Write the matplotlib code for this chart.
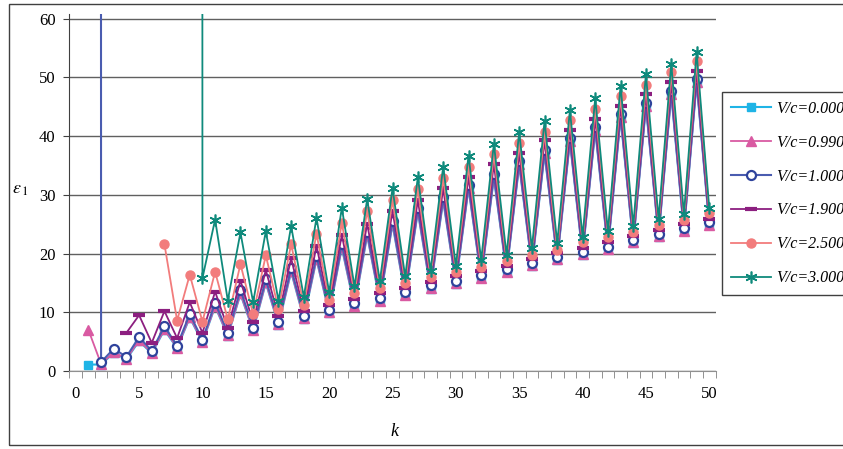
import numpy as np
import matplotlib
matplotlib.use('Agg')
import matplotlib.pyplot as plt
from matplotlib.patches import Rectangle

plt.rcParams['font.family'] = ['Liberation Serif', 'DejaVu Serif']
plt.rcParams['mathtext.fontset'] = 'stix'

nan = np.nan
BIG = 1e4  # off-scale value, shows as a vertical line

k = list(range(1, 51))

vc_000 = [1.1, 1.1, 3.1, 2.0, 5.1, 3.0, 7.0, 3.9, 9.1, 4.9, 11.0, 6.0, 13.1, 6.9, 15.0, 7.9,
          16.9, 8.9, 19.0, 9.9, 21.0, 11.0, 23.1, 11.9, 25.0, 12.9, 27.1, 14.0, 29.0, 14.9,
          31.1, 15.8, 32.9, 16.8, 35.1, 17.9, 37.0, 18.9, 39.1, 19.8, 41.0, 20.7, 43.1, 21.8,
          45.0, 22.9, 47.1, 23.8, 49.1, 24.8]
vc_099 = [7.0, 1.2, 3.2, 2.1, 5.2, 3.1, 7.1, 4.0, 9.2, 5.0, 11.1, 6.1, 13.2, 7.0, 15.1, 8.0,
          17.0, 9.0, 19.1, 10.0, 21.1, 11.1, 23.2, 12.0, 25.1, 13.0, 27.2, 14.1, 29.1, 15.0,
          31.2, 15.9, 33.0, 16.9, 35.2, 18.0, 37.1, 19.0, 39.2, 19.9, 41.1, 20.8, 43.2, 21.9,
          45.1, 23.0, 47.2, 23.9, 49.2, 24.9]
vc_100 = [BIG, 1.5, 3.8, 2.4, 5.8, 3.4, 7.6, 4.3, 9.7, 5.3, 11.6, 6.5, 13.8, 7.4, 15.6, 8.4,
          17.5, 9.4, 19.6, 10.4, 21.6, 11.6, 23.7, 12.4, 25.6, 13.4, 27.7, 14.6, 29.6, 15.4,
          31.7, 16.3, 33.5, 17.3, 35.7, 18.4, 37.6, 19.4, 39.7, 20.3, 41.6, 21.2, 43.7, 22.3,
          45.6, 23.4, 47.7, 24.3, 49.7, 25.3]
vc_190 = [nan, nan, nan, 6.5, 9.5, 4.8, 10.2, 5.6, 11.7, 6.5, 13.5, 7.3, 15.4, 8.3, 17.2, 9.3,
          19.2, 10.2, 21.3, 11.2, 23.2, 12.3, 25.1, 13.2, 27.3, 14.2, 29.1, 15.2, 31.1, 16.2,
          33.0, 17.0, 35.3, 17.9, 37.1, 19.1, 39.3, 20.1, 41.1, 21.0, 43.0, 22.0, 45.1, 23.0,
          47.1, 24.0, 49.2, 25.0, 51.1, 25.9]
vc_250 = [nan, nan, nan, nan, nan, nan, 21.6, 8.6, 16.4, 8.4, 16.9, 8.8, 18.2, 9.7, 19.7, 10.6,
          21.6, 11.2, 23.4, 12.1, 25.2, 13.2, 27.3, 14.1, 29.1, 15.0, 31.0, 16.0, 32.8, 16.9,
          34.7, 17.7, 36.9, 18.7, 38.8, 19.8, 40.7, 20.6, 42.8, 21.9, 44.7, 22.9, 46.8, 23.7,
          48.7, 24.8, 50.9, 25.7, 52.8, 26.9]
vc_300 = [nan, nan, nan, nan, nan, nan, nan, nan, BIG, 15.8, 25.8, 12.0, 23.6, 11.7, 23.8, 12.0,
          24.7, 12.6, 26.1, 13.4, 27.8, 14.4, 29.3, 15.3, 31.1, 16.1, 33.0, 17.1, 34.8, 17.9,
          36.7, 18.9, 38.7, 19.8, 40.7, 20.9, 42.6, 21.8, 44.4, 22.9, 46.5, 23.8, 48.6, 24.7,
          50.5, 25.9, 52.3, 26.7, 54.3, 27.7]

labels = ['V/c=0.000', 'V/c=0.990', 'V/c=1.000', 'V/c=1.900', 'V/c=2.500', 'V/c=3.000']

fig = plt.figure(figsize=(8.43, 4.49), dpi=100)
fig.patches.append(Rectangle((9 / 843, 1 - 445 / 449), 1.0, 441 / 449,
                             transform=fig.transFigure, fill=False,
                             edgecolor='#404040', lw=1.0))

ax = fig.add_axes([69.4 / 843, 1 - 371 / 449, 646.2 / 843, 357 / 449])

ax.plot(k, vc_000, color='#1fb4e6', lw=1.5, marker='s', ms=5.5, mec='#1fb4e6', label=labels[0])
ax.plot(k, vc_099, color='#d95aa2', lw=1.3, marker='^', ms=6.5, mec='#d95aa2', label=labels[1])
ax.plot(k, vc_100, color='#4a5cb0', lw=1.5, marker='o', ms=6.5, mfc='white', mec='#2f439c',
        mew=1.6, label=labels[2])
ax.plot(k, vc_190, color='#8c1f80', lw=1.3, marker='_', ms=8, mew=3, label=labels[3])
ax.plot(k, vc_250, color='#f27c7c', lw=1.3, marker='o', ms=6.5, mec='#f27c7c', label=labels[4])
ax.plot(k, vc_300, color='#0f8a7c', lw=1.3, marker=(6, 2, 0), ms=8.5, mew=1.2, label=labels[5])

ax.set_xlim(-0.5, 50.5)
ax.set_ylim(0, 60.8)
ax.set_yticks(range(0, 61, 10))
ax.set_xticks(range(0, 51, 5))
ax.set_xticks(np.arange(-0.5, 51, 1), minor=True)
ax.tick_params(axis='x', which='major', length=0, pad=11, labelsize=12)
ax.tick_params(axis='x', which='minor', length=5, color='#808080', direction='out')
ax.tick_params(axis='y', length=4, color='#404040', pad=6, labelsize=12)
ax.grid(axis='y', color='#606060', lw=1.0)
ax.set_axisbelow(True)
for s in ['top', 'right']:
    ax.spines[s].set_visible(False)
ax.spines['left'].set_color('#404040')
ax.spines['bottom'].set_color('#909090')

fig.text(20 / 843, 1 - 190 / 449, r'$\varepsilon_{\,1}$', fontsize=13, ha='center', va='center')
fig.text(394 / 843, 1 - 431 / 449, 'k', fontsize=13, style='italic', ha='center', va='center')

leg = fig.legend(loc='upper left', bbox_to_anchor=(722 / 843, 1 - 92 / 449),
                 bbox_transform=fig.transFigure, borderaxespad=0,
                 prop={'family': 'Liberation Serif', 'style': 'italic', 'size': 11.5},
                 handlelength=2.5, handletextpad=0.35, labelspacing=1.12, borderpad=0.55,
                 fancybox=False, framealpha=1, edgecolor='#404040')
leg.get_frame().set_linewidth(1.0)

fig.savefig('out.png', dpi=100)
